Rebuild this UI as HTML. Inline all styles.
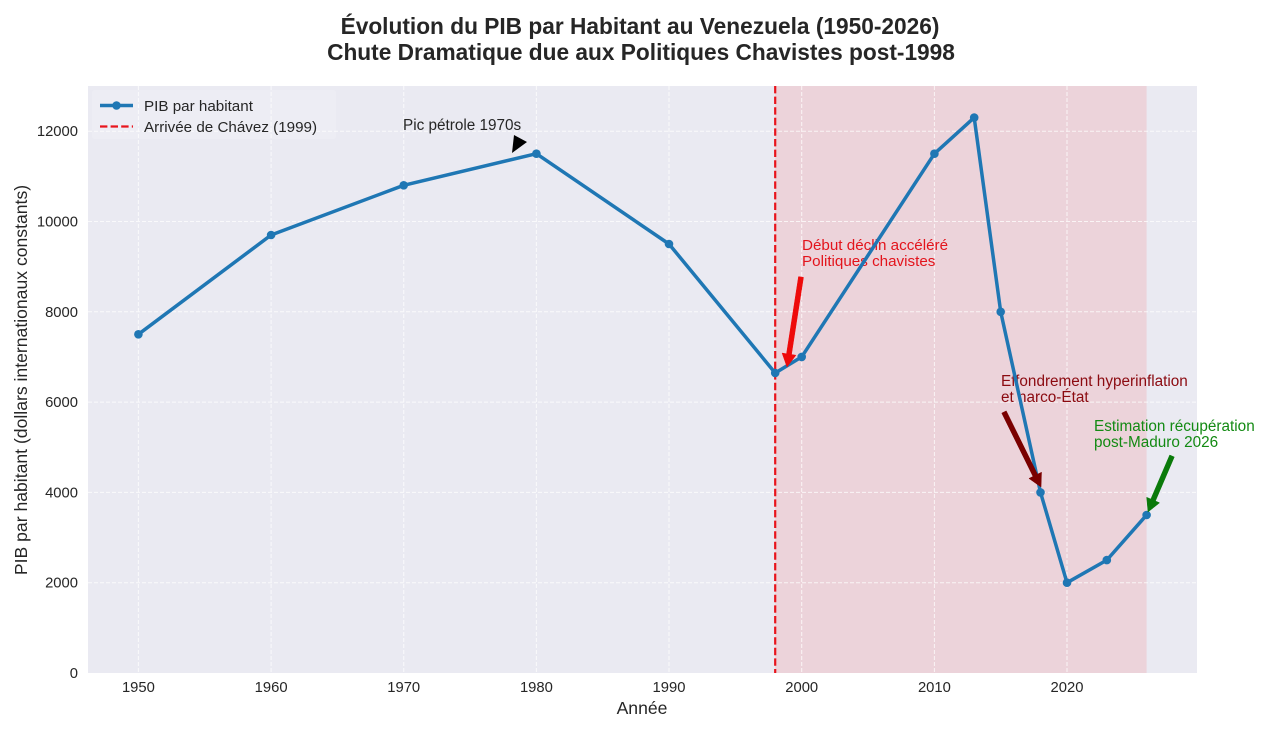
<!DOCTYPE html>
<html>
<head>
<meta charset="utf-8">
<style>
html,body{margin:0;padding:0;background:#fff;}
svg{display:block;}
text{font-family:"Liberation Sans",Arial,sans-serif;}
</style>
</head>
<body>
<svg width="1280" height="731" viewBox="0 0 1280 731" xmlns="http://www.w3.org/2000/svg">
  <rect x="0" y="0" width="1280" height="731" fill="#ffffff"/>
  <!-- Title -->
  <text x="640" y="34" text-anchor="middle" font-size="22.7" font-weight="bold" fill="#262626">Évolution du PIB par Habitant au Venezuela (1950-2026)</text>
  <text x="641" y="60" text-anchor="middle" font-size="22.7" font-weight="bold" fill="#262626">Chute Dramatique due aux Politiques Chavistes post-1998</text>

  <!-- Plot background -->
  <rect x="88" y="86" width="1109" height="587" fill="#eaeaf2"/>
  <!-- Shaded region -->
  <rect x="775.2" y="86" width="371.4" height="587" fill="#ecd3da"/>

  <!-- Grid -->
  <g stroke="#ffffff" stroke-width="1" stroke-dasharray="4,2" opacity="0.75">
    <line x1="138.4" y1="86" x2="138.4" y2="673"/>
    <line x1="271.1" y1="86" x2="271.1" y2="673"/>
    <line x1="403.7" y1="86" x2="403.7" y2="673"/>
    <line x1="536.4" y1="86" x2="536.4" y2="673"/>
    <line x1="669.0" y1="86" x2="669.0" y2="673"/>
    <line x1="801.7" y1="86" x2="801.7" y2="673"/>
    <line x1="934.4" y1="86" x2="934.4" y2="673"/>
    <line x1="1067.0" y1="86" x2="1067.0" y2="673"/>
    <line x1="88" y1="582.7" x2="1197" y2="582.7"/>
    <line x1="88" y1="492.4" x2="1197" y2="492.4"/>
    <line x1="88" y1="402.1" x2="1197" y2="402.1"/>
    <line x1="88" y1="311.8" x2="1197" y2="311.8"/>
    <line x1="88" y1="221.5" x2="1197" y2="221.5"/>
    <line x1="88" y1="131.2" x2="1197" y2="131.2"/>
  </g>

  <!-- Y tick labels -->
  <g font-size="14.8" fill="#262626" text-anchor="end">
    <text x="78" y="678">0</text>
    <text x="78" y="587.7">2000</text>
    <text x="78" y="497.4">4000</text>
    <text x="78" y="407.1">6000</text>
    <text x="78" y="316.8">8000</text>
    <text x="78" y="226.5">10000</text>
    <text x="78" y="136.2">12000</text>
  </g>
  <!-- X tick labels -->
  <g font-size="14.8" fill="#262626" text-anchor="middle">
    <text x="138.4" y="692">1950</text>
    <text x="271.1" y="692">1960</text>
    <text x="403.7" y="692">1970</text>
    <text x="536.4" y="692">1980</text>
    <text x="669.0" y="692">1990</text>
    <text x="801.7" y="692">2000</text>
    <text x="934.4" y="692">2010</text>
    <text x="1067.0" y="692">2020</text>
  </g>

  <!-- Axis labels -->
  <text x="642" y="714" text-anchor="middle" font-size="17.6" fill="#262626">Année</text>
  <text transform="translate(27,380) rotate(-90)" text-anchor="middle" font-size="17.6" fill="#262626">PIB par habitant (dollars internationaux constants)</text>

  <!-- Legend frame -->
  <rect x="92" y="90" width="244" height="49" rx="3" fill="#ffffff" fill-opacity="0.18"/>

  <!-- Annotation texts (under line) -->
  <text x="403" y="130" font-size="15.3" fill="#262626">Pic pétrole 1970s</text>
  <text x="802" y="250" font-size="15.2" fill="#e3141c">Début déclin accéléré</text>
  <text x="802" y="266" font-size="15.2" fill="#e3141c">Politiques chavistes</text>
  <text x="1001" y="386" font-size="15.3" fill="#8b0a10">Effondrement hyperinflation</text>
  <text x="1001" y="402" font-size="15.3" fill="#8b0a10">et narco-État</text>
  <text x="1094" y="431" font-size="15.3" fill="#138a13">Estimation récupération</text>
  <text x="1094" y="447" font-size="15.3" fill="#138a13">post-Maduro 2026</text>

  <!-- Vertical Chavez line -->
  <line x1="775.2" y1="86" x2="775.2" y2="673" stroke="#e8141c" stroke-width="2.2" stroke-dasharray="7.4,3.2"/>

  <!-- Data line -->
  <polyline fill="none" stroke="#1f77b4" stroke-width="3.5" stroke-linejoin="round"
    points="138.4,334.3 271.1,235.0 403.7,185.3 536.4,153.7 669.0,244.0 775.2,373 801.7,356.9 934.4,153.7 974.2,117.6 1000.7,311.8 1040.5,492.4 1067.0,582.7 1106.8,560.1 1146.6,515.0"/>
  <g fill="#1f77b4">
    <circle cx="138.4" cy="334.3" r="4.3"/>
    <circle cx="271.1" cy="235.0" r="4.3"/>
    <circle cx="403.7" cy="185.3" r="4.3"/>
    <circle cx="536.4" cy="153.7" r="4.3"/>
    <circle cx="669.0" cy="244.0" r="4.3"/>
    <circle cx="775.2" cy="373" r="4.3"/>
    <circle cx="801.7" cy="356.9" r="4.3"/>
    <circle cx="934.4" cy="153.7" r="4.3"/>
    <circle cx="974.2" cy="117.6" r="4.3"/>
    <circle cx="1000.7" cy="311.8" r="4.3"/>
    <circle cx="1040.5" cy="492.4" r="4.3"/>
    <circle cx="1067.0" cy="582.7" r="4.3"/>
    <circle cx="1106.8" cy="560.1" r="4.3"/>
    <circle cx="1146.6" cy="515.0" r="4.3"/>
  </g>

  <!-- Arrows -->
  <polygon fill="#000000" points="514,135 527,142 512,153"/>
  <polygon fill="#ee0a0a" stroke="#ee0a0a" stroke-width="0.5" points="798.53,276.62 786.53,353.77 782.08,353.07 787,367 795.92,355.23 791.47,354.53 803.47,277.38"/>
  <polygon fill="#7a0000" stroke="#7a0000" stroke-width="0.5" points="1001.76,413.11 1033.01,476.45 1028.97,478.44 1041,487 1041.53,472.24 1037.49,474.23 1006.24,410.89"/>
  <polygon fill="#0a7a0a" stroke="#0a7a0a" stroke-width="0.5" points="1169.70,455.02 1150.82,499.07 1146.69,497.29 1148,512 1159.55,502.81 1155.42,501.03 1174.30,456.98"/>

  <!-- Legend -->
  <line x1="100" y1="105.5" x2="133" y2="105.5" stroke="#1f77b4" stroke-width="3.5"/>
  <circle cx="116.5" cy="105.5" r="4.3" fill="#1f77b4"/>
  <text x="144" y="111" font-size="15.2" fill="#262626">PIB par habitant</text>
  <line x1="100" y1="126.5" x2="133" y2="126.5" stroke="#e8141c" stroke-width="2.2" stroke-dasharray="7.4,3.2"/>
  <text x="144" y="132" font-size="15.2" fill="#262626">Arrivée de Chávez (1999)</text>
</svg>
</body>
</html>
